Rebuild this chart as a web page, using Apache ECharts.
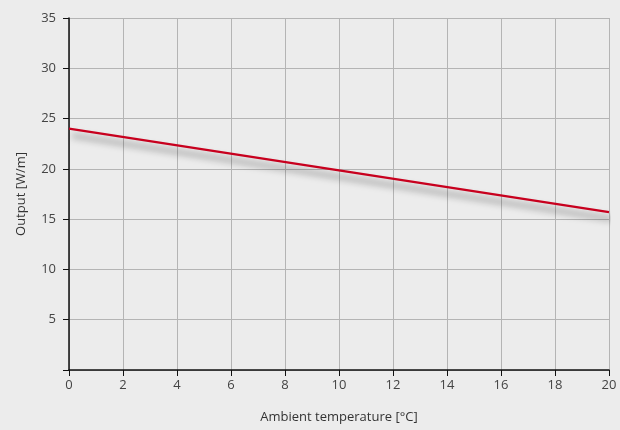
<!DOCTYPE html>
<html>
<head>
<meta charset="utf-8">
<script src="https://cdn.jsdelivr.net/npm/echarts@6/dist/echarts.min.js"></script>
<style>
  html, body { margin: 0; padding: 0; background: #ececec; }
  #chart { width: 620px; height: 430px; }
</style>
</head>
<body>
<div id="chart"></div>
<script>
// values
var temps = [0, 10, 20];
var output = [24, 19.85, 15.7];
var xName = 'Ambient temperature [°C]';
var yName = 'Output [W/m]';

var points = temps.map(function (t, i) { return [t, output[i]]; });
var font = '"Open Sans", "Noto Sans", sans-serif';

var option = {
    backgroundColor: '#ececec',
    animation: false,
    grid: { left: 69, right: 11, top: 18, bottom: 60 },
    xAxis: {
        type: 'value',
        min: 0, max: 20, interval: 2,
        name: xName,
        nameLocation: 'middle',
        nameGap: 41,
        nameTextStyle: { color: '#333', fontSize: 13, fontFamily: font },
        axisLine: { lineStyle: { color: '#111', width: 1.5 } },
        axisTick: { length: 6, lineStyle: { color: '#111' } },
        axisLabel: { color: '#444', fontSize: 13, fontFamily: font, margin: 9 },
        splitLine: { lineStyle: { color: '#b4b4b4', width: 1 } }
    },
    yAxis: {
        type: 'value',
        min: 0, max: 35, interval: 5,
        name: yName,
        nameLocation: 'middle',
        nameGap: 41,
        nameTextStyle: { color: '#333', fontSize: 13, fontFamily: font },
        axisLine: { show: true, lineStyle: { color: '#111', width: 1.5 } },
        axisTick: { show: true, length: 6, lineStyle: { color: '#111' } },
        axisLabel: {
            color: '#444', fontSize: 13, fontFamily: font, margin: 13,
            formatter: function (v) { return v === 0 ? '' : v; }
        },
        splitLine: { lineStyle: { color: '#b4b4b4', width: 1 } }
    },
    series: [{
        type: 'line',
        data: points,
        symbol: 'none',
        lineStyle: {
            color: '#c8001e',
            width: 2.2,
            shadowColor: 'rgba(0,0,0,0.55)',
            shadowBlur: 7,
            shadowOffsetX: 3,
            shadowOffsetY: 7
        }
    }]
};

var myChart = echarts.init(document.getElementById('chart'));
myChart.setOption(option);
</script>
</body>
</html>
